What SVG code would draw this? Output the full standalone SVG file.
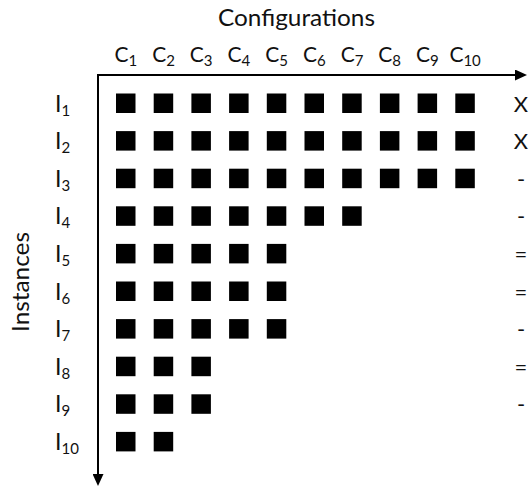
<svg xmlns="http://www.w3.org/2000/svg" width="529" height="487" viewBox="0 0 529 487">
  <style>
    text { font-family: Lato, "Open Sans", "Liberation Sans", sans-serif; fill: #111; }
    .title { font-size: 23px; }
    .col { font-size: 21px; text-anchor: middle; }
    .row { font-size: 23px; }
    .sub { font-size: 15px; }
    .mark { font-size: 22px; text-anchor: middle; }
    .cell { fill: #000; }
    .axis { stroke: #000; stroke-width: 2; fill: none; }
  </style>
  <defs>
    <marker id="arrow" markerUnits="userSpaceOnUse" markerWidth="12" markerHeight="11" refX="0" refY="5.5" orient="auto">
      <path d="M0,0 L12,5.5 L0,11 z" fill="#000"/>
    </marker>
    <rect id="cell" class="cell" width="19.5" height="19.5"/>
  </defs>

  <!-- axis titles -->
  <text id="title-configurations" class="title" x="218" y="26" textLength="157" lengthAdjust="spacingAndGlyphs">Configurations</text>
  <text id="title-instances" class="title" transform="translate(29,332) rotate(-90)" textLength="100" lengthAdjust="spacingAndGlyphs">Instances</text>

  <!-- axes -->
  <g id="connectors">
    <line class="axis" x1="97" y1="75" x2="515" y2="75" marker-end="url(#arrow)"/>
    <line class="axis" x1="98" y1="74" x2="98" y2="474" marker-end="url(#arrow)"/>
  </g>

  <!-- column headers -->
  <g id="columns">
    <text class="col" x="125.8" y="62">C<tspan class="sub" dy="4">1</tspan></text>
    <text class="col" x="163.5" y="62">C<tspan class="sub" dy="4">2</tspan></text>
    <text class="col" x="201.2" y="62">C<tspan class="sub" dy="4">3</tspan></text>
    <text class="col" x="238.9" y="62">C<tspan class="sub" dy="4">4</tspan></text>
    <text class="col" x="276.6" y="62">C<tspan class="sub" dy="4">5</tspan></text>
    <text class="col" x="314.3" y="62">C<tspan class="sub" dy="4">6</tspan></text>
    <text class="col" x="352.0" y="62">C<tspan class="sub" dy="4">7</tspan></text>
    <text class="col" x="389.7" y="62">C<tspan class="sub" dy="4">8</tspan></text>
    <text class="col" x="427.4" y="62">C<tspan class="sub" dy="4">9</tspan></text>
    <text class="col" x="465.1" y="62">C<tspan class="sub" dy="4">10</tspan></text>
  </g>

  <!-- instance rows: label, cells, result mark -->
  <g id="row-1" transform="translate(0,93.5)">
    <text class="row" x="55" y="18">I<tspan class="sub" dy="4">1</tspan></text>
    <use href="#cell" x="116"/><use href="#cell" x="153.7"/><use href="#cell" x="191.4"/><use href="#cell" x="229.1"/><use href="#cell" x="266.8"/>
    <use href="#cell" x="304.5"/><use href="#cell" x="342.2"/><use href="#cell" x="379.9"/><use href="#cell" x="417.6"/><use href="#cell" x="455.3"/>
    <text class="mark" x="521" y="18">X</text>
  </g>
  <g id="row-2" transform="translate(0,131.1)">
    <text class="row" x="55" y="18">I<tspan class="sub" dy="4">2</tspan></text>
    <use href="#cell" x="116"/><use href="#cell" x="153.7"/><use href="#cell" x="191.4"/><use href="#cell" x="229.1"/><use href="#cell" x="266.8"/>
    <use href="#cell" x="304.5"/><use href="#cell" x="342.2"/><use href="#cell" x="379.9"/><use href="#cell" x="417.6"/><use href="#cell" x="455.3"/>
    <text class="mark" x="521" y="18">X</text>
  </g>
  <g id="row-3" transform="translate(0,168.7)">
    <text class="row" x="55" y="18">I<tspan class="sub" dy="4">3</tspan></text>
    <use href="#cell" x="116"/><use href="#cell" x="153.7"/><use href="#cell" x="191.4"/><use href="#cell" x="229.1"/><use href="#cell" x="266.8"/>
    <use href="#cell" x="304.5"/><use href="#cell" x="342.2"/><use href="#cell" x="379.9"/><use href="#cell" x="417.6"/><use href="#cell" x="455.3"/>
    <text class="mark" x="521" y="18">-</text>
  </g>
  <g id="row-4" transform="translate(0,206.3)">
    <text class="row" x="55" y="18">I<tspan class="sub" dy="4">4</tspan></text>
    <use href="#cell" x="116"/><use href="#cell" x="153.7"/><use href="#cell" x="191.4"/><use href="#cell" x="229.1"/><use href="#cell" x="266.8"/>
    <use href="#cell" x="304.5"/><use href="#cell" x="342.2"/>
    <text class="mark" x="521" y="18">-</text>
  </g>
  <g id="row-5" transform="translate(0,243.9)">
    <text class="row" x="55" y="18">I<tspan class="sub" dy="4">5</tspan></text>
    <use href="#cell" x="116"/><use href="#cell" x="153.7"/><use href="#cell" x="191.4"/><use href="#cell" x="229.1"/><use href="#cell" x="266.8"/>
    <text class="mark" x="521" y="18">=</text>
  </g>
  <g id="row-6" transform="translate(0,281.5)">
    <text class="row" x="55" y="18">I<tspan class="sub" dy="4">6</tspan></text>
    <use href="#cell" x="116"/><use href="#cell" x="153.7"/><use href="#cell" x="191.4"/><use href="#cell" x="229.1"/><use href="#cell" x="266.8"/>
    <text class="mark" x="521" y="18">=</text>
  </g>
  <g id="row-7" transform="translate(0,319.1)">
    <text class="row" x="55" y="18">I<tspan class="sub" dy="4">7</tspan></text>
    <use href="#cell" x="116"/><use href="#cell" x="153.7"/><use href="#cell" x="191.4"/><use href="#cell" x="229.1"/><use href="#cell" x="266.8"/>
    <text class="mark" x="521" y="18">-</text>
  </g>
  <g id="row-8" transform="translate(0,356.7)">
    <text class="row" x="55" y="18">I<tspan class="sub" dy="4">8</tspan></text>
    <use href="#cell" x="116"/><use href="#cell" x="153.7"/><use href="#cell" x="191.4"/>
    <text class="mark" x="521" y="18">=</text>
  </g>
  <g id="row-9" transform="translate(0,394.3)">
    <text class="row" x="55" y="18">I<tspan class="sub" dy="4">9</tspan></text>
    <use href="#cell" x="116"/><use href="#cell" x="153.7"/><use href="#cell" x="191.4"/>
    <text class="mark" x="521" y="18">-</text>
  </g>
  <g id="row-10" transform="translate(0,431.9)">
    <text class="row" x="55" y="18">I<tspan class="sub" dy="4">10</tspan></text>
    <use href="#cell" x="116"/><use href="#cell" x="153.7"/>
  </g>
</svg>
